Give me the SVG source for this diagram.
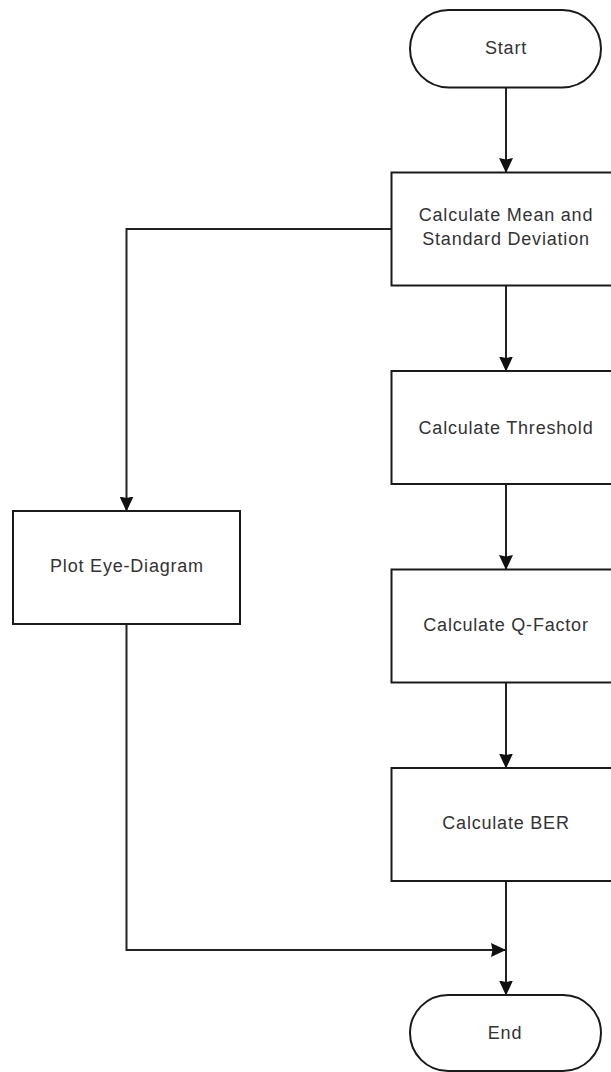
<svg xmlns="http://www.w3.org/2000/svg" width="611" height="1072" viewBox="0 0 611 1072">
<style>
.box{fill:#fff;stroke:#1a1a1a;stroke-width:2}
.lbl{font-family:"Liberation Sans",Arial,sans-serif;font-size:18px;fill:#333;text-anchor:middle;letter-spacing:0.8px}
.con{fill:none;stroke:#222;stroke-width:2}
</style>
<defs>
<marker id="arr" markerUnits="userSpaceOnUse" markerWidth="15" markerHeight="14" refX="14" refY="7" orient="auto" viewBox="0 0 15 14">
<path d="M0,0 L15,7 L0,14 L1.5,7 z" fill="#111"/>
</marker>
</defs>
<rect width="611" height="1072" fill="#fff"/>
<g id="connectors">
<path class="con" d="M506,87.5 V172" marker-end="url(#arr)"/>
<path class="con" d="M506,285.5 V370.5" marker-end="url(#arr)"/>
<path class="con" d="M506,484 V569" marker-end="url(#arr)"/>
<path class="con" d="M506,682.5 V767.5" marker-end="url(#arr)"/>
<path class="con" d="M506,881 V994.5" marker-end="url(#arr)"/>
<path class="con" d="M391.5,229 H126.5 V510.5" marker-end="url(#arr)"/>
<path class="con" d="M126.5,624 V950 H505" marker-end="url(#arr)"/>
</g>
<g id="start">
<rect class="box" x="410" y="10" width="191" height="77.5" rx="38.75" ry="38.75"/>
<text class="lbl" x="506" y="54">Start</text>
</g>
<g id="mean">
<rect class="box" x="391.5" y="172.5" width="231" height="113"/>
<text class="lbl" x="506" y="221">Calculate Mean and</text>
<text class="lbl" x="506" y="245">Standard Deviation</text>
</g>
<g id="threshold">
<rect class="box" x="391.5" y="371" width="231" height="113"/>
<text class="lbl" x="506" y="434">Calculate Threshold</text>
</g>
<g id="qfactor">
<rect class="box" x="391.5" y="569.5" width="231" height="113"/>
<text class="lbl" x="506" y="631">Calculate Q-Factor</text>
</g>
<g id="ber">
<rect class="box" x="391.5" y="768" width="231" height="113"/>
<text class="lbl" x="506" y="829">Calculate BER</text>
</g>
<g id="eye">
<rect class="box" x="13" y="511" width="227" height="113"/>
<text class="lbl" x="127" y="572">Plot Eye-Diagram</text>
</g>
<g id="end">
<rect class="box" x="410" y="995" width="191" height="76" rx="38" ry="38"/>
<text class="lbl" x="505" y="1039">End</text>
</g>
</svg>
